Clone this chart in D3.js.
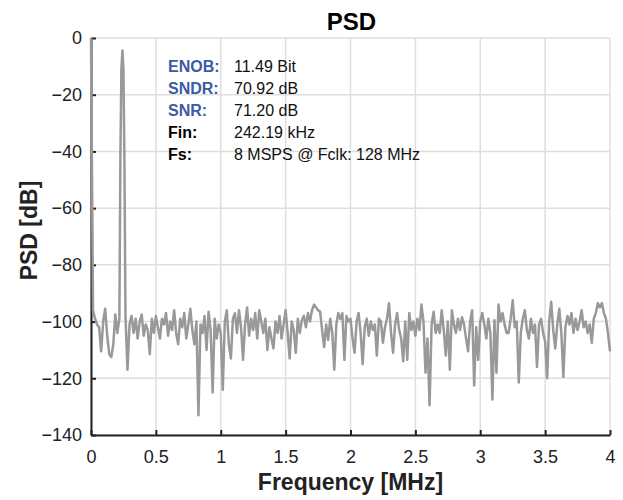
<!DOCTYPE html>
<html>
<head>
<meta charset="utf-8">
<script src="https://cdn.jsdelivr.net/npm/d3@7"></script>
<style>
  body { margin: 0; background: #fff; }
  text { font-family: "Liberation Sans", Arial, Helvetica, sans-serif; }
</style>
</head>
<body>
<div id="chart"></div>
<script>
// PSD values in dB, one every 2 FFT bins (0.015625 MHz), 0 .. 4 MHz
const binStep = 0.015625;
const noiseDb = [
  0, -96, -99, -101, -102, -110.5, -100, -95.5, -105, -111.5,
  -112.5, -108, -97.5, -104, -99, -99, -99, -99, -117, -101,
  -98, -104, -99, -106, -100, -97.5, -105, -101, -103, -111.5,
  -99, -104, -98, -102, -106, -99, -101, -97, -105, -100,
  -103, -96, -104, -108, -99, -102, -97, -106, -101, -95.5,
  -103, -108, -100, -133, -101, -104, -98, -110, -96.5, -103,
  -125, -99, -106, -101, -104, -124, -100, -96, -108, -113,
  -99, -97, -104, -96, -102, -113.5, -101, -95, -105, -99,
  -103, -97, -106, -96, -100, -104, -99, -110, -102, -106,
  -109.5, -100, -104, -98, -106, -101, -96, -104, -113, -100,
  -103, -111, -99, -104, -99.5, -98, -102, -97, -100, -96,
  -94, -95, -96, -96.5, -103, -109, -101, -106.5, -99, -104,
  -117, -101, -97, -99, -97, -113.5, -98, -100, -99, -106,
  -111, -100, -97, -104, -115, -102, -99, -105, -100, -103,
  -101, -112, -99, -100, -107.5, -102, -99, -93.5, -104, -111,
  -101, -97, -103, -106, -114, -100, -113.5, -97, -103, -100,
  -105, -99, -103, -94, -100, -118, -106, -129.5, -101, -96.5,
  -104, -101, -104, -96, -103, -112, -100, -117, -96, -101,
  -104, -99, -103, -98.5, -101, -106, -110.5, -100, -96, -122.5,
  -102, -113.5, -100, -97, -101, -106, -99, -104, -127.5, -99.5,
  -118, -94, -100, -97, -101, -104, -104, -99, -92.5, -102,
  -100, -121.5, -104, -99, -96, -103, -106, -99, -104, -101,
  -116, -101, -99, -104, -107, -120, -100, -93, -103, -109.5,
  -101, -95.5, -104, -119.5, -102, -98, -101, -97, -104, -99,
  -103, -100, -96, -102, -100, -104, -101, -107.5, -99, -97,
  -93.5, -95, -93.5, -97, -99, -104, -110.5
];

// input tone around bin 31 (242.19 kHz), full bin resolution
const toneFreq = [0.21875, 0.2265625, 0.234375, 0.2421875, 0.25, 0.2578125, 0.265625];
const toneDb = [-99, -42, -11, -4.4, -11, -44, -98];

const xTicks = [0, 0.5, 1, 1.5, 2, 2.5, 3, 3.5, 4];
const yTicks = [0, -20, -40, -60, -80, -100, -120, -140];

const infoLabels = ["ENOB:", "SNDR:", "SNR:", "Fin:", "Fs:"];
const infoValues = ["11.49 Bit", "70.92 dB", "71.20 dB", "242.19 kHz", "8 MSPS @ Fclk: 128 MHz"];
const infoColors = ["#3b5ba5", "#3b5ba5", "#3b5ba5", "#000", "#000"];

// build the trace: noise points outside the tone span + the tone bins
const toneLo = toneFreq[0], toneHi = toneFreq[toneFreq.length - 1];
const trace = noiseDb
  .map((v, i) => ({ f: i * binStep, v }))
  .filter(d => d.f < toneLo || d.f > toneHi)
  .concat(toneFreq.map((f, i) => ({ f, v: toneDb[i] })))
  .sort((a, b) => a.f - b.f);

const W = 623, H = 500;
const margin = { top: 38, right: 13, bottom: 65, left: 91 };
const width = W - margin.left - margin.right;
const height = H - margin.top - margin.bottom;

const svg = d3.select("#chart")
  .append("svg")
    .attr("width", W)
    .attr("height", H);

const g = svg.append("g")
    .attr("transform", `translate(${margin.left},${margin.top})`);

const x = d3.scaleLinear().domain([0, 4]).range([0, width]);
const y = d3.scaleLinear().domain([-140, 0]).range([height, 0]);

// grid
g.append("g").selectAll("line.vgrid")
  .data(xTicks)
  .join("line")
    .attr("x1", d => x(d)).attr("x2", d => x(d))
    .attr("y1", 0).attr("y2", height)
    .attr("stroke", "#dedede").attr("stroke-width", 1.5);

g.append("g").selectAll("line.hgrid")
  .data(yTicks)
  .join("line")
    .attr("x1", 0).attr("x2", width)
    .attr("y1", d => y(d)).attr("y2", d => y(d))
    .attr("stroke", "#dedede").attr("stroke-width", 1.5);

// axes, ticks pointing inward
const xAxis = g.append("g")
    .attr("transform", `translate(0,${height})`)
    .call(d3.axisBottom(x).tickValues(xTicks).tickSizeInner(-5).tickSizeOuter(0).tickPadding(15)
      .tickFormat(d3.format("")));

const yAxis = g.append("g")
    .call(d3.axisLeft(y).tickValues(yTicks).tickSizeInner(-5).tickSizeOuter(0).tickPadding(9)
      .tickFormat(d3.format("")));

[xAxis, yAxis].forEach(a => {
  a.select(".domain").attr("stroke", "#222").attr("stroke-width", 2);
  a.selectAll(".tick line").attr("stroke", "#222").attr("stroke-width", 2);
  a.selectAll(".tick text")
    .attr("fill", "#222")
    .style("font-size", "18px")
    .style("font-family", "'Liberation Sans', Arial, sans-serif");
});

// PSD trace
const line = d3.line()
  .x(d => x(d.f))
  .y(d => y(d.v));

g.append("path")
  .datum(trace)
  .attr("fill", "none")
  .attr("stroke", "#999")
  .attr("stroke-width", 2.5)
  .attr("stroke-linejoin", "round")
  .attr("d", line);

// title and axis labels
svg.append("text")
  .attr("x", margin.left + width / 2 + 1)
  .attr("y", 30)
  .attr("text-anchor", "middle")
  .style("font-size", "24px")
  .style("font-weight", "bold")
  .text("PSD");

svg.append("text")
  .attr("x", margin.left + width / 2)
  .attr("y", 490)
  .attr("text-anchor", "middle")
  .style("font-size", "23px")
  .style("font-weight", "bold")
  .attr("fill", "#222")
  .text("Frequency [MHz]");

svg.append("text")
  .attr("transform", `translate(37,${margin.top + height / 2 - 6}) rotate(-90)`)
  .attr("text-anchor", "middle")
  .style("font-size", "23px")
  .style("font-weight", "bold")
  .attr("fill", "#222")
  .text("PSD [dB]");

// info block
const info = svg.append("g");
infoLabels.forEach((lab, i) => {
  const yy = 72 + i * 22;
  info.append("text")
    .attr("x", 168).attr("y", yy)
    .attr("fill", infoColors[i])
    .style("font-size", "16px")
    .style("font-weight", "bold")
    .text(lab);
  info.append("text")
    .attr("x", 234).attr("y", yy)
    .attr("fill", "#111")
    .style("font-size", "16px")
    .text(infoValues[i]);
});
</script>
</body>
</html>
